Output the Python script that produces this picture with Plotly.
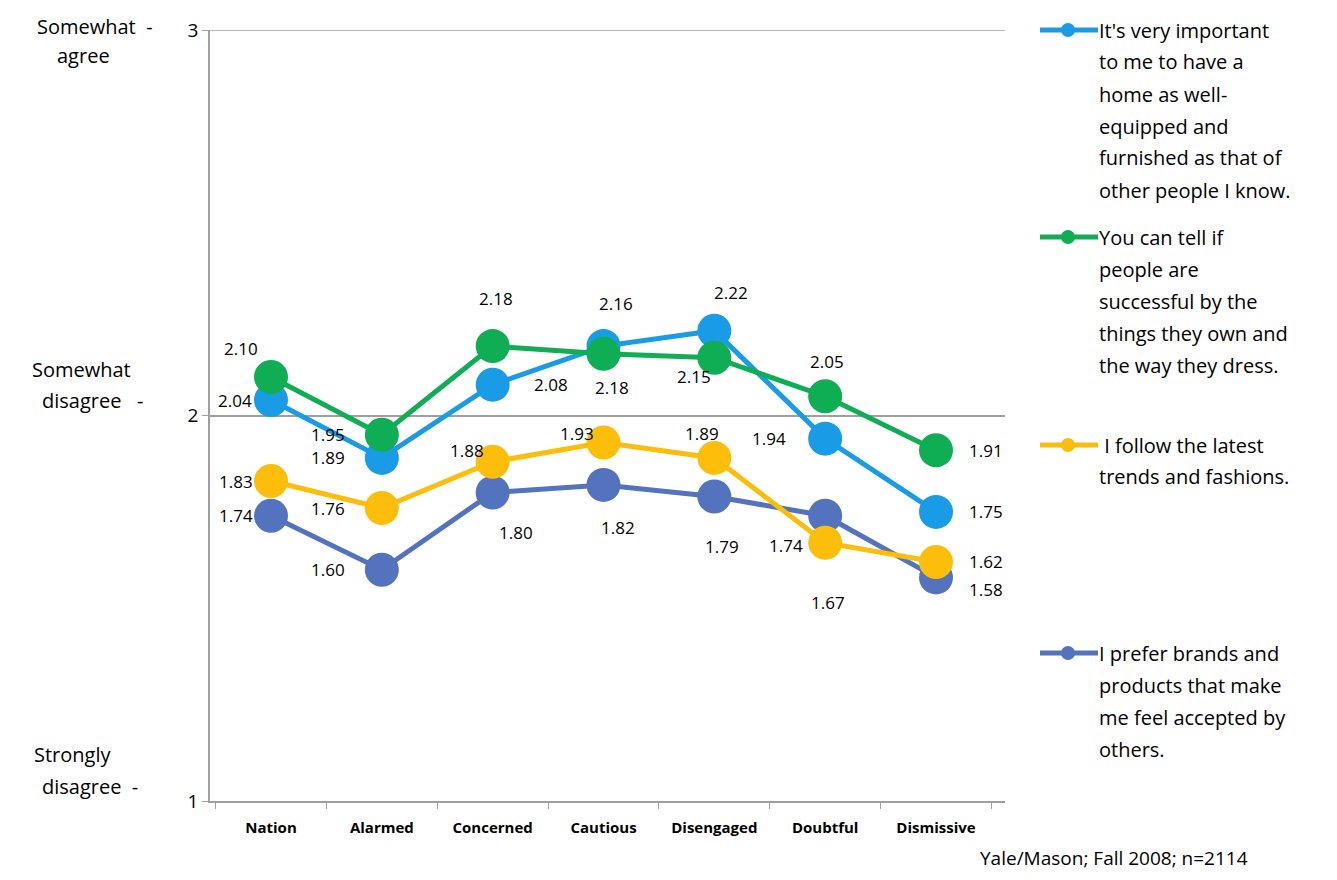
import plotly.graph_objects as go

categories = ["Nation", "Alarmed", "Concerned", "Cautious", "Disengaged", "Doubtful", "Dismissive"]
s_home = [2.04, 1.89, 2.08, 2.18, 2.22, 1.94, 1.75]
s_success = [2.10, 1.95, 2.18, 2.16, 2.15, 2.05, 1.91]
s_trends = [1.83, 1.76, 1.88, 1.93, 1.89, 1.67, 1.62]
s_brands = [1.74, 1.60, 1.80, 1.82, 1.79, 1.74, 1.58]
names = [["It's very important", "to me to have a", "home as well-", "equipped and", "furnished as that of", "other people I know."],
         ["You can tell if", "people are", "successful by the", "things they own and", "the way they dress."],
         [" I follow the latest", "trends and fashions."],
         ["I prefer brands and", "products that make", "me feel accepted by", "others."]]
colors = ["#1a9be6", "#0fae55", "#fcbe0a", "#5473be"]

off_home = [(-36, 0), (-54, 0), (58, 0), (8, 41), (17, -38), (-56, 0), (50, 0)]
off_success = [(-30, -28), (-54, 0), (3, -48), (12, -50), (-20, 19), (2, -35), (50, 0)]
off_trends = [(-35, 0), (-54, 0), (-26, -11), (-27, -9), (-12, -24), (3, 60), (50, 0)]
off_brands = [(-35, 0), (-54, 0), (23, 40), (14, 43), (8, 50), (-39, 30), (50, 12)]

font = "Open Sans, Lato, sans-serif"
fig = go.Figure()
series = [s_home, s_success, s_trends, s_brands]
offsets = [off_home, off_success, off_trends, off_brands]
for i in [3, 2, 0, 1]:
    fig.add_trace(go.Scatter(
        x=categories, y=series[i], mode="lines+markers",
        line=dict(color=colors[i], width=5),
        marker=dict(size=34, color=colors[i]),
        showlegend=False, cliponaxis=False))
for i in range(4):
    for c, v, (dx, dy) in zip(categories, series[i], offsets[i]):
        fig.add_annotation(x=c, y=v, text=f"{v:.2f}", showarrow=False, xshift=dx, yshift=-dy,
                           font=dict(size=17, family=font, color="black"))

H = 771.0
def py(p):
    return (801 - p) / H
def px(p):
    return (p - 210) / 795.0

legend_px = [30, 237, 445, 653]
for i in range(4):
    ly = py(legend_px[i])
    fig.add_shape(type="line", xref="paper", yref="paper", x0=px(1040), x1=px(1098), y0=ly, y1=ly,
                  line=dict(color=colors[i], width=5))
    fig.add_shape(type="circle", xref="paper", yref="paper",
                  x0=px(1061), x1=px(1075), y0=py(legend_px[i] + 7), y1=py(legend_px[i] - 7),
                  fillcolor=colors[i], line=dict(color=colors[i], width=0))
    for k, line in enumerate(names[i]):
        fig.add_annotation(xref="paper", yref="paper", x=px(1097), y=py(legend_px[i] + 32 * k), text=line,
                           showarrow=False, xanchor="left", yanchor="middle", align="left",
                           font=dict(size=20, family=font, color="black"))

ylabels = [(26, 155, "right", "Somewhat  -"), (56, 83, "center", "agree"),
           (369, 81, "center", "Somewhat"), (401, 145, "right", "disagree   -"),
           (754, 72, "center", "Strongly"), (786, 140, "right", "disagree  -")]
for p, x, anc, t in ylabels:
    fig.add_annotation(xref="paper", yref="paper", x=px(x), y=py(p), text=t,
                       showarrow=False, xanchor=anc, yanchor="middle",
                       font=dict(size=20, family=font, color="black"))

fig.add_annotation(xref="paper", yref="paper", x=px(1250), y=py(858), text="Yale/Mason; Fall 2008; n=2114",
                   showarrow=False, xanchor="right", yanchor="middle",
                   font=dict(size=19, family=font, color="black"))
fig.add_shape(type="line", xref="paper", yref="y", x0=0, x1=1, y0=3, y1=3,
              line=dict(color="#a0a0a0", width=1.5))

fig.update_layout(
    width=1321, height=864, plot_bgcolor="white", paper_bgcolor="white",
    margin=dict(l=202, r=324, t=22, b=71, autoexpand=False),
    font=dict(family=font, color="black"),
    xaxis=dict(type="category", tickson="boundaries", ticks="outside", ticklen=6, automargin=False,
               ticklabelstandoff=12,
               showline=True, linecolor="#a0a0a0", linewidth=1.5, tickcolor="#a0a0a0",
               showgrid=False, tickfont=dict(size=15, family=font, weight="bold")),
    yaxis=dict(range=[1, 3], tickvals=[1, 2, 3], ticks="outside", ticklen=6, automargin=False,
               showline=True, linecolor="#a0a0a0", linewidth=1.5, tickcolor="#a0a0a0",
               showgrid=True, gridcolor="#a0a0a0", gridwidth=1.5, zeroline=False,
               tickfont=dict(size=19, family=font)),
)
fig.write_html("out.html")
